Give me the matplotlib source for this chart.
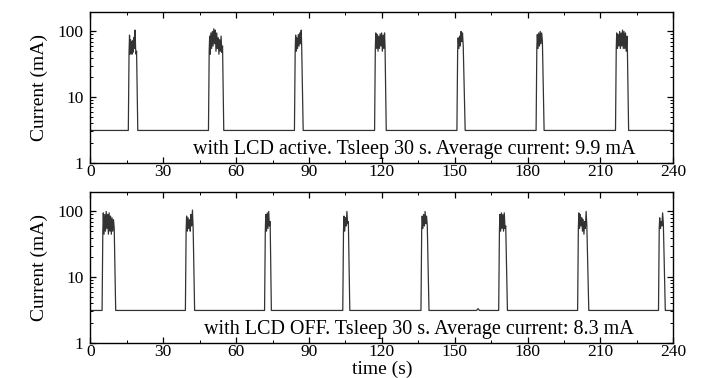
import matplotlib
matplotlib.use("Agg")
import matplotlib.pyplot as plt
from matplotlib.ticker import MultipleLocator, FixedLocator, LogLocator, NullFormatter, FixedFormatter

plt.rcParams['font.family'] = ['Liberation Serif', 'DejaVu Serif']

# current traces (time s, current mA), one list per wake-up burst
base = 3.1

top_bursts = [
    [(15.6, 3.1), (15.9, 48), (16.1, 88), (16.3, 45), (16.5, 75), (16.7, 50), (16.9, 70), (17.1, 45),
     (17.3, 72), (17.5, 48), (17.8, 80), (18.0, 55), (18.2, 95), (18.4, 105), (18.6, 55), (18.8, 45),
     (19.0, 50), (19.5, 3.1)],
    [(48.6, 3.1), (48.9, 50), (49.1, 85), (49.3, 45), (49.6, 95), (49.9, 55), (50.2, 100), (50.5, 60),
     (50.8, 110), (51.1, 65), (51.4, 105), (51.7, 50), (52.0, 95), (52.3, 55), (52.6, 80), (52.9, 45),
     (53.2, 75), (53.5, 50), (53.8, 85), (54.1, 48), (54.4, 60), (54.9, 3.1)],
    [(84.0, 3.1), (84.3, 48), (84.5, 88), (84.7, 50), (85.0, 80), (85.3, 55), (85.6, 90), (85.9, 60),
     (86.2, 95), (86.5, 65), (86.8, 105), (87.0, 55), (87.6, 3.1)],
    [(117.0, 3.1), (117.3, 55), (117.5, 95), (117.8, 55), (118.1, 90), (118.4, 50), (118.7, 85),
     (119.0, 55), (119.3, 92), (119.6, 60), (119.9, 95), (120.2, 50), (120.5, 88), (120.8, 55),
     (121.1, 95), (121.3, 60), (121.8, 3.1)],
    [(150.9, 3.1), (151.2, 50), (151.4, 80), (151.7, 55), (152.0, 85), (152.3, 60), (152.6, 100),
     (152.9, 70), (153.2, 95), (153.5, 60), (154.3, 3.1)],
    [(183.5, 3.1), (183.8, 55), (184.0, 90), (184.3, 55), (184.6, 95), (184.9, 60), (185.2, 100),
     (185.5, 65), (185.8, 95), (186.1, 70), (186.8, 3.1)],
    [(216.2, 3.1), (216.5, 55), (216.7, 95), (217.0, 55), (217.3, 90), (217.6, 60), (217.9, 100),
     (218.2, 55), (218.5, 95), (218.8, 60), (219.1, 105), (219.4, 55), (219.7, 100), (220.0, 55),
     (220.3, 95), (220.6, 50), (220.9, 85), (221.1, 50), (221.6, 3.1)],
]

bottom_bursts = [
    [(4.8, 3.1), (5.1, 50), (5.3, 95), (5.6, 45), (5.9, 90), (6.2, 50), (6.5, 100), (6.8, 55),
     (7.1, 90), (7.4, 45), (7.7, 95), (8.0, 50), (8.3, 85), (8.6, 45), (8.9, 80), (9.2, 50),
     (9.5, 75), (9.8, 55), (10.4, 3.1)],
    [(39.1, 3.1), (39.4, 50), (39.6, 85), (39.9, 50), (40.2, 80), (40.5, 55), (40.8, 75), (41.1, 50),
     (41.4, 90), (41.7, 60), (42.0, 105), (42.3, 55), (42.9, 3.1)],
    [(71.7, 3.1), (72.0, 50), (72.2, 90), (72.5, 50), (72.8, 95), (73.1, 55), (73.4, 100), (73.7, 60),
     (74.0, 70), (74.5, 3.1)],
    [(103.9, 3.1), (104.2, 50), (104.4, 85), (104.7, 50), (105.0, 80), (105.3, 60), (105.6, 100),
     (105.9, 65), (106.2, 70), (106.8, 3.1)],
    [(136.1, 3.1), (136.4, 55), (136.6, 85), (136.9, 55), (137.2, 90), (137.5, 60), (137.8, 100),
     (138.1, 65), (138.4, 85), (138.7, 60), (139.4, 3.1)],
    [(159.0, 3.1), (159.6, 3.3), (160.2, 3.1)],
    [(168.1, 3.1), (168.4, 50), (168.6, 90), (168.9, 50), (169.2, 95), (169.5, 55), (169.8, 90),
     (170.1, 50), (170.4, 95), (170.7, 55), (171.0, 60), (171.7, 3.1)],
    [(200.6, 3.1), (200.9, 55), (201.1, 95), (201.4, 55), (201.7, 90), (202.0, 60), (202.3, 80),
     (202.6, 50), (202.9, 75), (203.2, 45), (203.5, 70), (203.8, 55), (204.1, 100), (204.4, 60),
     (205.2, 3.1)],
    [(233.9, 3.1), (234.2, 55), (234.4, 80), (234.7, 55), (235.0, 70), (235.3, 60), (235.6, 95),
     (235.9, 65), (236.7, 3.1)],
]

labels = ["with LCD active. Tsleep 30 s. Average current: 9.9 mA",
          "with LCD OFF. Tsleep 30 s. Average current: 8.3 mA"]
label_x = [0.176, 0.194]


def trace(bursts):
    t = [0.0]
    c = [base]
    for b in bursts:
        for ti, ci in b:
            t.append(ti)
            c.append(ci)
    t.append(240.0)
    c.append(base)
    return t, c


fig = plt.figure(figsize=(7.01, 3.78), dpi=100)
ax1 = fig.add_axes([0.129, 0.5696, 0.8315, 0.3994])
ax2 = fig.add_axes([0.129, 0.0934, 0.8315, 0.3995])

for ax, bursts, lab, lx in zip([ax1, ax2], [top_bursts, bottom_bursts], labels, label_x):
    t, c = trace(bursts)
    ax.plot(t, c, color='#333333', lw=0.9)
    ax.set_yscale('log')
    ax.set_xlim(0, 240)
    ax.set_ylim(1, 200)
    ax.xaxis.set_major_locator(MultipleLocator(30))
    ax.xaxis.set_minor_locator(MultipleLocator(15))
    ax.yaxis.set_major_locator(FixedLocator([1, 10, 100]))
    ax.yaxis.set_major_formatter(FixedFormatter(['1', '10', '100']))
    ax.yaxis.set_minor_locator(LogLocator(base=10, subs=range(2, 10)))
    ax.yaxis.set_minor_formatter(NullFormatter())
    ax.tick_params(which='both', direction='in', top=True, right=True, labelsize=12.5)
    ax.tick_params(axis='x', which='major', pad=1)
    ax.tick_params(axis='y', which='major', pad=5)
    ax.tick_params(which='major', length=4, width=0.9)
    ax.tick_params(which='minor', length=2, width=0.7)
    for s in ax.spines.values():
        s.set_linewidth(1.0)
    ax.set_ylabel('Current (mA)', fontsize=14, labelpad=7)
    ax.text(lx, 0.085, lab, transform=ax.transAxes, fontsize=14.5, va='center', ha='left')

ax2.set_xlabel('time (s)', fontsize=14)
ax2.xaxis.set_label_coords(0.5, -0.122)

fig.savefig('out.png', dpi=100)
